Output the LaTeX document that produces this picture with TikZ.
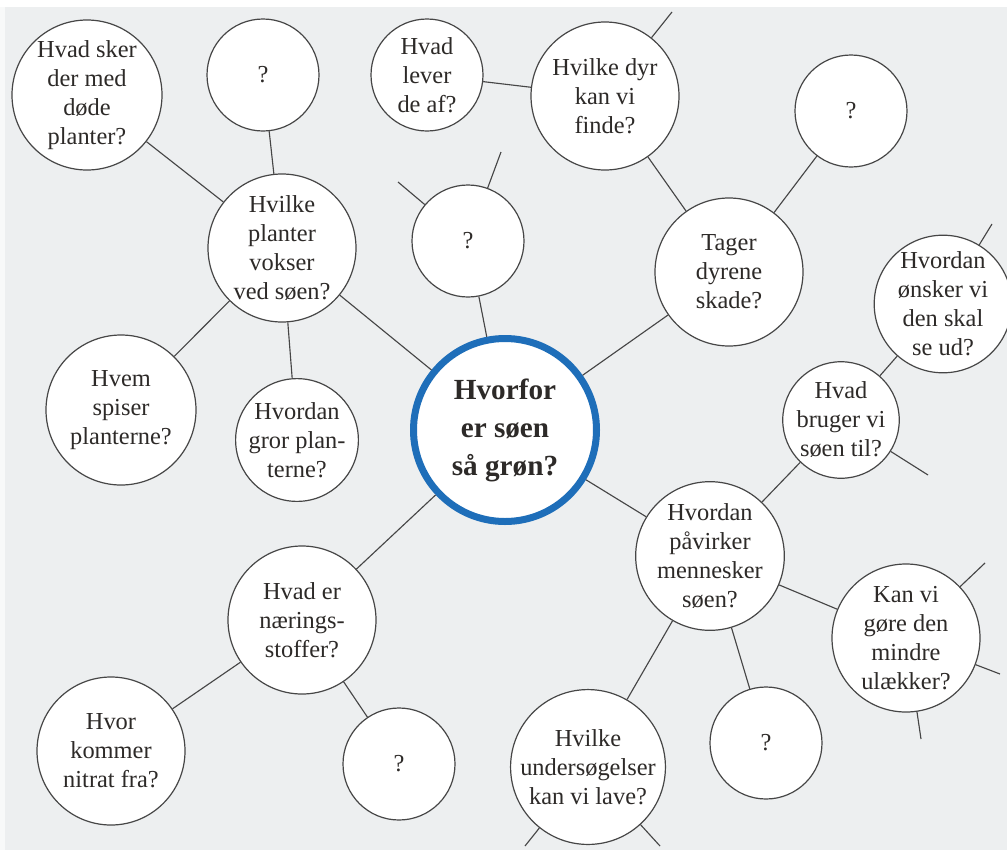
\documentclass[tikz,border=0pt]{standalone}
\usepackage{fontspec}
\setmainfont{Liberation Serif}
\definecolor{bgc}{RGB}{237,239,240}
\definecolor{linec}{RGB}{70,70,70}
\definecolor{textc}{RGB}{45,42,40}
\definecolor{ringc}{RGB}{30,110,185}
\tikzset{
  bub/.style={circle, draw=linec, fill=white, line width=0.9pt, inner sep=0pt,
    align=center, text=textc, font=\fontsize{18.3pt}{21.75pt}\selectfont},
  conn/.style={draw=linec, line width=0.85pt},
  hub/.style={circle, draw=ringc, fill=white, line width=5.25pt, inner sep=0pt,
    minimum size=137.25pt, align=center, text=textc,
    font=\fontsize{21.9pt}{28.5pt}\selectfont\bfseries}
}
\begin{document}
\begin{tikzpicture}[x=0.75pt,y=-0.75pt]
\useasboundingbox (0,0) rectangle (1007,850);
\fill[bgc] (0,0) rectangle (1007,850);
\fill[white] (0,0) rectangle (1007,7);
\fill[white!60!bgc] (0,7) rectangle (5,850);

% nodes
\node[hub] (c) at (505,430) {Hvorfor\\er søen\\så grøn?};
\node[bub, minimum size=112.5pt] (dead) at (87,95) {Hvad sker\\der med\\døde\\planter?};
\node[bub, minimum size=84pt] (q1) at (263,75) {?};
\node[bub, minimum size=84pt] (lever) at (427,75) {Hvad\\lever\\de af?};
\node[bub, minimum size=111pt] (dyr) at (605,96) {Hvilke dyr\\kan vi\\finde?};
\node[bub, minimum size=84pt] (q2) at (851,111) {?};
\node[bub, minimum size=111pt] (planter) at (282,248) {Hvilke\\planter\\vokser\\ved søen?};
\node[bub, minimum size=84pt] (q3) at (468,241) {?};
\node[bub, minimum size=111pt] (tager) at (729,272) {Tager\\dyrene\\skade?};
\node[bub, minimum size=87pt] (onsker) at (943,304) {Hvordan\\ønsker vi\\den skal\\se ud?};
\node[bub, minimum size=112.5pt] (hvem) at (121,410) {Hvem\\spiser\\planterne?};
\node[bub, minimum size=82.5pt] (gror) at (297,440) {Hvordan\\gror plan-\\terne?};
\node[bub, minimum size=82.5pt] (bruger) at (841,420) {Hvad\\bruger vi\\søen til?};
\node[bub, minimum size=111pt] (paavirker) at (710,556) {Hvordan\\påvirker\\mennesker\\søen?};
\node[bub, minimum size=111pt] (naering) at (302,620) {Hvad er\\nærings-\\stoffer?};
\node[bub, minimum size=111pt] (kan) at (906,638) {Kan vi\\gøre den\\mindre\\ulækker?};
\node[bub, minimum size=111pt] (nitrat) at (111,751) {Hvor\\kommer\\nitrat fra?};
\node[bub, minimum size=84pt] (q4) at (399,764) {?};
\node[bub, minimum size=84pt] (q5) at (766,743) {?};
\node[bub, minimum size=111pt] (unders) at (588,767) {Hvilke\\undersøgelser\\kan vi lave?};

% free ends
\coordinate (e1) at (672,12);
\coordinate (e2) at (398,182);
\coordinate (e3) at (501,152);
\coordinate (e4) at (992,224);
\coordinate (e5) at (928,475);
\coordinate (e6) at (985,563);
\coordinate (e7) at (1000,674);
\coordinate (e8) at (921,739);
\coordinate (e9) at (525,846);
\coordinate (e10) at (660,846);

% connectors
\path[conn] (c) -- (planter);
\path[conn] (c) -- (q3);
\path[conn] (c) -- (tager);
\path[conn] (c) -- (paavirker);
\path[conn] (c) -- (naering);
\path[conn] (planter) -- (dead);
\path[conn] (planter) -- (q1);
\path[conn] (planter) -- (hvem);
\path[conn] (planter) -- (gror);
\path[conn] (dyr) -- (lever);
\path[conn] (dyr) -- (tager);
\path[conn] (tager) -- (q2);
\path[conn] (paavirker) -- (bruger);
\path[conn] (bruger) -- (onsker);
\path[conn] (paavirker) -- (kan);
\path[conn] (paavirker) -- (q5);
\path[conn] (paavirker) -- (unders);
\path[conn] (naering) -- (nitrat);
\path[conn] (naering) -- (q4);
\path[conn] (dyr) -- (e1);
\path[conn] (q3) -- (e2);
\path[conn] (q3) -- (e3);
\path[conn] (onsker) -- (e4);
\path[conn] (bruger) -- (e5);
\path[conn] (kan) -- (e6);
\path[conn] (kan) -- (e7);
\path[conn] (kan) -- (e8);
\path[conn] (unders) -- (e9);
\path[conn] (unders) -- (e10);
\end{tikzpicture}
\end{document}
